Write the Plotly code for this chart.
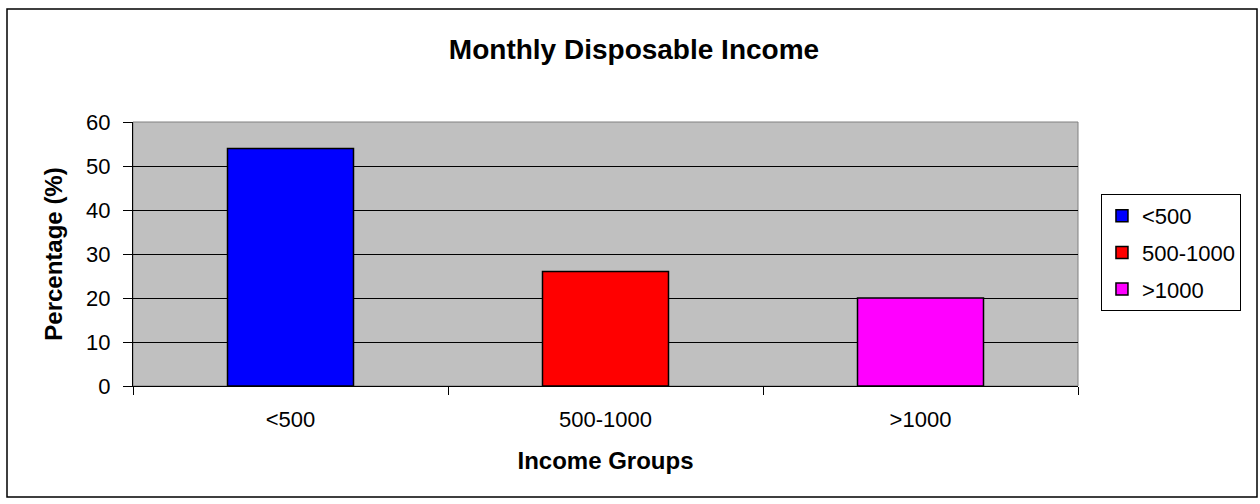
import plotly.graph_objects as go

# Survey results: share of respondents per monthly disposable income band
categories = ["<500", "500-1000", ">1000"]
percentages = [54, 26, 20]
bar_colors = ["#0000FF", "#FF0000", "#FF00FF"]

FONT = "Liberation Sans, Arial, sans-serif"

fig = go.Figure()
for i, (cat, val, col) in enumerate(zip(categories, percentages, bar_colors)):
    fig.add_trace(go.Bar(
        x=[cat], y=[val], name=cat,
        marker=dict(color=col, line=dict(color="black", width=1.5)),
        width=0.4,
        legendgroup=f"g{i}",
        hoverinfo="x+y",
    ))

fig.update_layout(
    width=1260, height=504,
    margin=dict(l=133, r=182, t=122, b=118),
    paper_bgcolor="white",
    plot_bgcolor="#C0C0C0",
    barmode="overlay",
    font=dict(family=FONT, size=22, color="black"),
    title=dict(
        text="<b>Monthly Disposable Income</b>",
        font=dict(family=FONT, size=28, color="black"),
        x=(634 - 133) / 945, xref="paper", xanchor="center",
        y=1 - 49 / 504, yref="container", yanchor="middle",
    ),
    legend=dict(
        x=1.0243, y=0.727, xanchor="left", yanchor="top",
        bordercolor="black", borderwidth=1, bgcolor="white",
        font=dict(family=FONT, size=22, color="black"),
        traceorder="grouped", tracegroupgap=5,
        itemclick=False,
    ),
    showlegend=True,
)

fig.update_xaxes(
    type="category",
    categoryorder="array", categoryarray=categories,
    showline=True, linecolor="black", linewidth=1,
    ticks="outside", ticklen=8, tickcolor="black", tickwidth=1,
    tickson="boundaries",
    ticklabelstandoff=14,
    showgrid=False,
    title=dict(text="<b>Income Groups</b>", font=dict(family=FONT, size=24), standoff=20),
    tickfont=dict(family=FONT, size=22),
)
fig.update_yaxes(
    range=[0, 60], dtick=10,
    showline=True, linecolor="black", linewidth=1,
    ticks="outside", ticklen=9, tickcolor="black", tickwidth=1,
    ticklabelstandoff=8,
    showgrid=True, gridcolor="black", gridwidth=1,
    zeroline=False,
    title=dict(text="<b>Percentage (%)</b>", font=dict(family=FONT, size=24), standoff=16),
    tickfont=dict(family=FONT, size=22),
)

# plot-area frame (top and right edges are grey) and the outer chart border
fig.add_shape(type="rect", xref="paper", yref="paper", x0=0, x1=1, y0=0, y1=1,
              line=dict(color="#808080", width=1), layer="below")
fig.add_shape(type="rect", xref="paper", yref="paper",
              x0=(7 - 133) / 945, x1=(1257 - 133) / 945,
              y0=(386 - 497) / 264, y1=(386 - 9) / 264,
              line=dict(color="black", width=1.5))

fig.write_html("out.html")
